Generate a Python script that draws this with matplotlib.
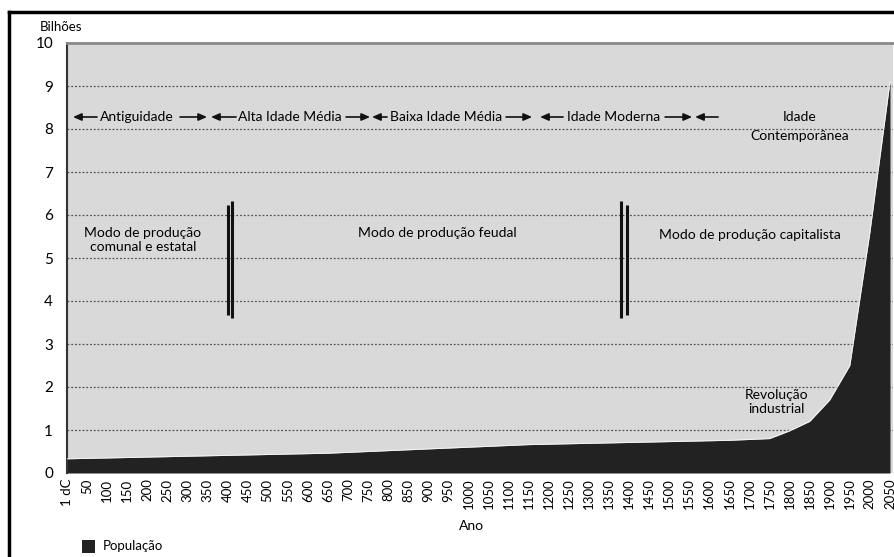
import matplotlib
matplotlib.use('Agg')
import matplotlib.pyplot as plt
from matplotlib.patches import Rectangle
from matplotlib.lines import Line2D

plt.rcParams['font.family'] = ['Lato', 'DejaVu Sans']

anos = ['1 dC', '50', '100', '150', '200', '250', '300', '350', '400', '450',
        '500', '550', '600', '650', '700', '750', '800', '850', '900', '950',
        '1000', '1050', '1100', '1150', '1200', '1250', '1300', '1350', '1400', '1450',
        '1500', '1550', '1600', '1650', '1700', '1750', '1800', '1850', '1900', '1950',
        '2000', '2050']
populacao = [0.33, 0.34, 0.35, 0.36, 0.37, 0.38, 0.39, 0.40, 0.41, 0.42,
             0.43, 0.44, 0.45, 0.46, 0.48, 0.50, 0.52, 0.54, 0.56, 0.58,
             0.60, 0.62, 0.64, 0.66, 0.67, 0.68, 0.69, 0.70, 0.71, 0.72,
             0.73, 0.74, 0.75, 0.76, 0.78, 0.80, 0.98, 1.20, 1.70, 2.50,
             5.60, 9.10]
y_ticks = list(range(0, 11))

W, H = 894, 557
fig = plt.figure(figsize=(W / 100, H / 100), dpi=100)
L, R, T, B = 67, 893, 43, 473
ax = fig.add_axes([L / W, 1 - B / H, (R - L) / W, (B - T) / H])

x = list(range(len(anos)))
ax.set_facecolor('#d9d9d9')
for yv in range(1, 10):
    ax.axhline(yv, color='#555555', lw=0.9, ls=(0, (1.5, 1.5)), zorder=1)
ax.fill_between(x, populacao, 0, color='#222222', lw=0, zorder=2)
ax.plot(x, populacao, color='#f5f5f5', lw=0.7, zorder=3)

ax.set_xlim(0, 41.15)
ax.set_ylim(0, 10)
ax.set_xticks(x)
ax.set_xticklabels(anos, rotation=90, fontsize=9.5)
ax.set_yticks(y_ticks)
ax.set_yticklabels([str(v) for v in y_ticks], fontsize=11)
ax.tick_params(length=0, pad=4)
ax.tick_params(axis='y', pad=10)
for s in ['right', 'bottom']:
    ax.spines[s].set_visible(False)
ax.spines['top'].set_color('#8a8a8a')
ax.spines['top'].set_linewidth(2)
ax.spines['left'].set_color('#333333')
ax.spines['left'].set_linewidth(1.5)

def px(p):
    return (p - L) / 20.07

def py(p):
    return (B - p) / 43.0

fs = 10
ay = py(117)
arrow_kw = dict(arrowstyle='-|>,head_length=0.5,head_width=0.22', color='#111111', lw=1.2,
                shrinkA=0, shrinkB=0)

def arrow(x0, x1):
    ax.annotate('', xy=(px(x1), ay), xytext=(px(x0), ay), arrowprops=arrow_kw, zorder=5)

# period row
arrow(97, 73)
ax.text(px(100), ay, 'Antiguidade', fontsize=fs, va='center', ha='left')
arrow(180, 207)
arrow(236, 211)
ax.text(px(238), ay, 'Alta Idade Média', fontsize=fs, va='center', ha='left')
arrow(346, 370)
arrow(387, 372)
ax.text(px(390), ay, 'Baixa Idade Média', fontsize=fs, va='center', ha='left')
arrow(506, 532)
arrow(563, 540)
ax.text(px(567), ay, 'Idade Moderna', fontsize=fs, va='center', ha='left')
arrow(665, 692)
arrow(718, 695)
ax.text(px(800), py(117), 'Idade', fontsize=fs, va='center', ha='center')
ax.text(px(800), py(136), 'Contemporânea', fontsize=fs, va='center', ha='center')

# modes of production
ax.text(px(143), py(240), 'Modo de produção\ncomunal e estatal', fontsize=fs,
        va='center', ha='center', linespacing=1.15)
ax.text(px(437), py(233), 'Modo de produção feudal', fontsize=fs, va='center', ha='center')
ax.text(px(750), py(235), 'Modo de produção capitalista', fontsize=fs, va='center', ha='center')
ax.text(px(776), py(402), 'Revolução\nindustrial', fontsize=fs, va='center', ha='center',
        linespacing=1.15, zorder=6)

# separators
for xp, y0, y1 in [(228, 205, 315), (232, 201, 318), (621, 201, 318), (627, 205, 315)]:
    ax.plot([px(xp), px(xp)], [py(y0), py(y1)], color='#111111', lw=2.2, zorder=5,
            solid_capstyle='butt')

# axis titles
fig.text(40 / W, 1 - 27 / H, 'Bilhões', fontsize=9.5, va='center', ha='left')
fig.text(472 / W, 1 - 526 / H, 'Ano', fontsize=10, va='center', ha='center')

# legend
fig.add_artist(Rectangle((82 / W, 1 - 553 / H), 13 / W, 13 / H, transform=fig.transFigure,
                         facecolor='#222222', edgecolor='none'))
fig.text(103 / W, 1 - 546 / H, 'População', fontsize=9.5, va='center', ha='left')

# outer frame
fig.add_artist(Line2D([9 / W, 9 / W], [0, 1 - 12 / H], transform=fig.transFigure,
                      color='black', lw=2.5))
fig.add_artist(Line2D([9 / W, 1], [1 - 12 / H, 1 - 12 / H], transform=fig.transFigure,
                      color='black', lw=2.5))

fig.savefig('out.png', dpi=100)
